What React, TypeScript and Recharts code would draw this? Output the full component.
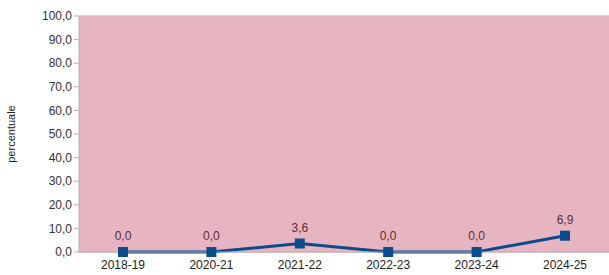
import React from 'react';
import { CartesianGrid, LabelList, Line, LineChart, XAxis, YAxis } from 'recharts';

const categories = ['2018-19', '2020-21', '2021-22', '2022-23', '2023-24', '2024-25'];
const values = [0.0, 0.0, 3.6, 0.0, 0.0, 6.9];
const yTicks = [0, 10, 20, 30, 40, 50, 60, 70, 80, 90, 100];

const data = categories.map((name, i) => ({ name, value: values[i] }));

const fmt = (v: number) => v.toFixed(1).replace('.', ',');

const SquareDot = (props: any) => {
  const { cx, cy } = props;
  if (cx == null || cy == null) return null;
  return <rect x={cx - 5} y={cy - 5} width={10} height={10} fill="#0B4A8B" />;
};

export default function App() {
  return (
    <div style={{ position: 'absolute', left: 0, top: 0, fontFamily: '"Liberation Sans", Arial, sans-serif' }}>
      <LineChart
        width={609}
        height={275}
        data={data}
        margin={{ top: 16, right: 0, left: 0, bottom: 1 }}
      >
        <rect x={79} y={16} width={530} height={236} fill="#E6B5C1" />
        <CartesianGrid vertical={false} stroke="#C9A1AB" strokeWidth={1} />
        <XAxis
          dataKey="name"
          axisLine={{ stroke: '#B3B3B3' }}
          tickLine={false}
          tick={{ fontSize: 12, fill: '#222' }}
          interval={0}
          height={22}
          padding={{ left: 44, right: 44 }}
        />
        <YAxis
          domain={[0, 100]}
          ticks={yTicks}
          tickFormatter={fmt}
          width={79}
          axisLine={{ stroke: '#B3B3B3' }}
          tickLine={{ stroke: '#B3B3B3' }}
          tickSize={5}
          tick={{ fontSize: 12, fill: '#333' }}
          label={{
            value: 'percentuale',
            angle: -90,
            position: 'insideLeft',
            offset: 11,
            style: { fontSize: 11, fill: '#222', textAnchor: 'middle' },
          }}
        />
        <Line
          type="linear"
          dataKey="value"
          stroke="#0B4A8B"
          strokeWidth={3}
          dot={<SquareDot />}
          activeDot={false}
          isAnimationActive={false}
        >
          <LabelList
            dataKey="value"
            position="top"
            offset={12}
            formatter={(v: any) => fmt(Number(v))}
            style={{ fontSize: 12, fill: '#5A2F33' }}
          />
        </Line>
      </LineChart>
    </div>
  );
}
